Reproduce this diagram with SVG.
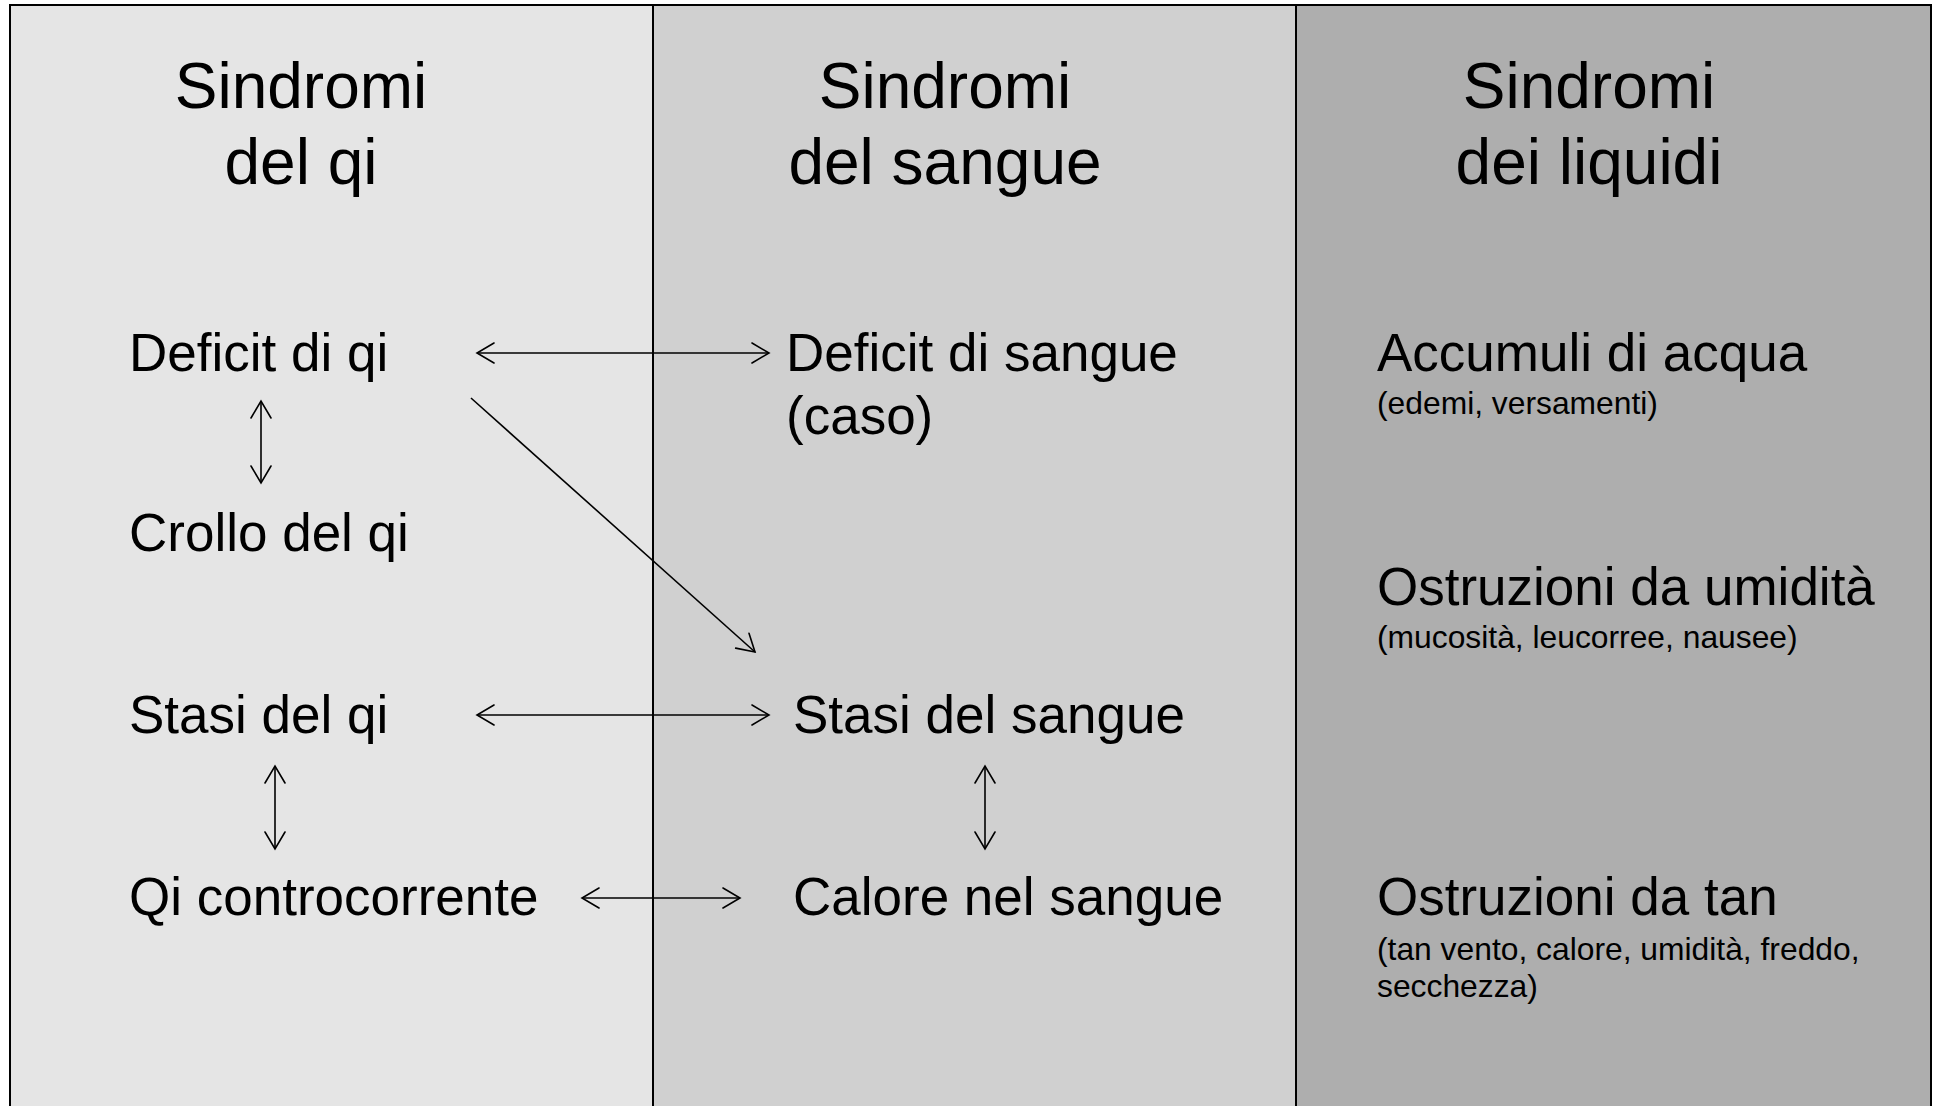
<svg xmlns="http://www.w3.org/2000/svg" width="1934" height="1106" viewBox="0 0 1934 1106">
<style>
.hd{font-family:"Liberation Sans",Arial,sans-serif;font-size:64px;fill:#000;text-anchor:middle}
.t{font-family:"Liberation Sans",Arial,sans-serif;font-size:53px;fill:#000}
.s{font-family:"Liberation Sans",Arial,sans-serif;font-size:31.8px;fill:#000}
.ln{stroke:#000;stroke-width:1.6;fill:none}
.ah{stroke:#000;stroke-width:1.6;fill:none;stroke-linecap:round}
</style>
<defs>
<marker id="arr" markerWidth="20" markerHeight="24" refX="18" refY="11" orient="auto-start-reverse" markerUnits="userSpaceOnUse">
<path d="M1,1 L18,11 L1,21" class="ah"/>
</marker>
</defs>
<rect x="0" y="0" width="1934" height="1106" fill="#fff"/>
<g id="panels">
<rect x="10" y="5" width="643" height="1110" fill="#E5E5E5"/>
<rect x="653" y="5" width="643" height="1110" fill="#D0D0D0"/>
<rect x="1296" y="5" width="635" height="1110" fill="#AEAEAE"/>
<path d="M10,1110 V5 H1931 V1110" fill="none" stroke="#000" stroke-width="2"/>
<line x1="653" y1="5" x2="653" y2="1110" stroke="#000" stroke-width="2"/>
<line x1="1296" y1="5" x2="1296" y2="1110" stroke="#000" stroke-width="2"/>
</g>
<g id="header-qi"><text class="hd" x="301" y="108">Sindromi</text><text class="hd" x="301" y="184">del qi</text></g>
<g id="header-sangue"><text class="hd" x="945" y="108">Sindromi</text><text class="hd" x="945" y="184">del sangue</text></g>
<g id="header-liquidi"><text class="hd" x="1589" y="108">Sindromi</text><text class="hd" x="1589" y="184">dei liquidi</text></g>
<g id="deficit-qi"><text class="t" x="129" y="371">Deficit di qi</text></g>
<g id="crollo-qi"><text class="t" x="129" y="551">Crollo del qi</text></g>
<g id="stasi-qi"><text class="t" x="129" y="733">Stasi del qi</text></g>
<g id="qi-controcorrente"><text class="t" x="129" y="915">Qi controcorrente</text></g>
<g id="deficit-sangue"><text class="t" x="786" y="371">Deficit di sangue</text><text class="t" x="786" y="434">(caso)</text></g>
<g id="stasi-sangue"><text class="t" x="793" y="733">Stasi del sangue</text></g>
<g id="calore-sangue"><text class="t" x="793" y="915">Calore nel sangue</text></g>
<g id="accumuli-acqua"><text class="t" x="1377" y="371">Accumuli di acqua</text><text class="s" x="1377" y="414">(edemi, versamenti)</text></g>
<g id="ostruzioni-umidita"><text class="t" x="1377" y="605">Ostruzioni da umidità</text><text class="s" x="1377" y="648">(mucosità, leucorree, nausee)</text></g>
<g id="ostruzioni-tan"><text class="t" x="1377" y="915">Ostruzioni da tan</text><text class="s" x="1377" y="960">(tan vento, calore, umidità, freddo,</text><text class="s" x="1377" y="997">secchezza)</text></g>
<g id="connectors">
<line class="ln" x1="477" y1="353" x2="769" y2="353" marker-start="url(#arr)" marker-end="url(#arr)"/>
<line class="ln" x1="471" y1="398" x2="755" y2="652" marker-end="url(#arr)"/>
<line class="ln" x1="261" y1="401" x2="261" y2="483" marker-start="url(#arr)" marker-end="url(#arr)"/>
<line class="ln" x1="477" y1="715" x2="769" y2="715" marker-start="url(#arr)" marker-end="url(#arr)"/>
<line class="ln" x1="275" y1="766" x2="275" y2="849" marker-start="url(#arr)" marker-end="url(#arr)"/>
<line class="ln" x1="985" y1="766" x2="985" y2="849" marker-start="url(#arr)" marker-end="url(#arr)"/>
<line class="ln" x1="582" y1="898" x2="740" y2="898" marker-start="url(#arr)" marker-end="url(#arr)"/>
</g>
</svg>
